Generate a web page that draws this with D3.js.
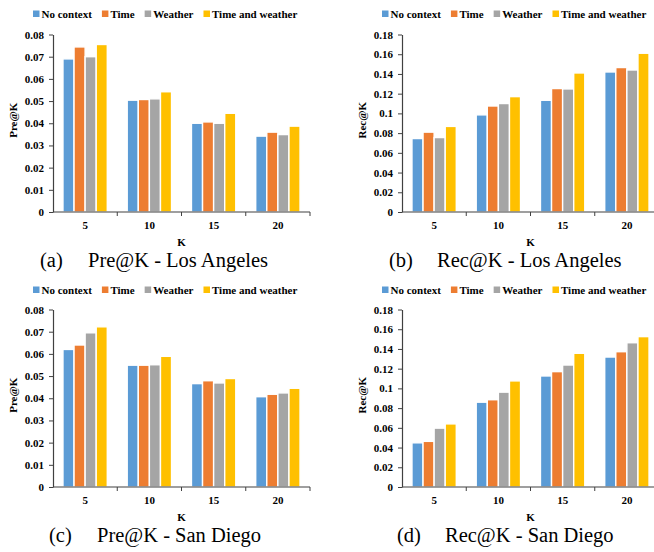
<!DOCTYPE html>
<html>
<head>
<meta charset="utf-8">
<script src="https://cdn.jsdelivr.net/npm/d3@7"></script>
<style>
  body { margin: 0; background: #fff; }
  svg { display: block; }
  svg text { font-family: "Liberation Serif", "Times New Roman", serif; }
</style>
</head>
<body>
<svg id="chart" width="654" height="552"></svg>
<script>
  // ---------- data ----------
  const kValues = ["5", "10", "15", "20"];
  const seriesNames = ["No context", "Time", "Weather", "Time and weather"];
  const seriesColors = ["#5B9BD5", "#ED7D31", "#A5A5A5", "#FFC000"];

  // one row per series, one value per K
  const preLosAngeles = [
    [0.0690, 0.0504, 0.0400, 0.0342],
    [0.0744, 0.0507, 0.0406, 0.0360],
    [0.0700, 0.0510, 0.0400, 0.0349],
    [0.0755, 0.0542, 0.0445, 0.0387]
  ];
  const recLosAngeles = [
    [0.0745, 0.0985, 0.1133, 0.1420],
    [0.0810, 0.1075, 0.1252, 0.1465],
    [0.0755, 0.1100, 0.1248, 0.1440],
    [0.0868, 0.1170, 0.1410, 0.1610]
  ];
  const preSanDiego = [
    [0.0620, 0.0549, 0.0466, 0.0407],
    [0.0640, 0.0549, 0.0479, 0.0418],
    [0.0695, 0.0551, 0.0469, 0.0424],
    [0.0722, 0.0589, 0.0489, 0.0445]
  ];
  const recSanDiego = [
    [0.0448, 0.0860, 0.1126, 0.1318],
    [0.0463, 0.0885, 0.1170, 0.1372],
    [0.0597, 0.0962, 0.1237, 0.1463],
    [0.0640, 0.1076, 0.1356, 0.1525]
  ];

  const preTicks = [0, 0.01, 0.02, 0.03, 0.04, 0.05, 0.06, 0.07, 0.08];
  const recTicks = [0, 0.02, 0.04, 0.06, 0.08, 0.1, 0.12, 0.14, 0.16, 0.18];

  const panels = [
    { tag: "(a)", title: "Pre@K - Los Angeles", yLabel: "Pre@K", values: preLosAngeles, ticks: preTicks,
      ox: 0, oy: 0 },
    { tag: "(b)", title: "Rec@K - Los Angeles", yLabel: "Rec@K", values: recLosAngeles, ticks: recTicks,
      ox: 349, oy: 0 },
    { tag: "(c)", title: "Pre@K - San Diego", yLabel: "Pre@K", values: preSanDiego, ticks: preTicks,
      ox: 0, oy: 275, capShift: 9 },
    { tag: "(d)", title: "Rec@K - San Diego", yLabel: "Rec@K", values: recSanDiego, ticks: recTicks,
      ox: 349, oy: 275, capShift: 8 }
  ];

  // ---------- layout ----------
  const axisLeft = 53;
  const plotWidth = 257;
  const plotTop = 34.5;
  const plotBottom = 212;
  const serif = "Liberation Serif";
  const axisColor = "#404040";

  const svg = d3.select("#chart");

  function boldText(sel) {
    return sel
      .attr("font-family", serif)
      .attr("font-weight", "bold")
      .attr("font-size", 11)
      .attr("fill", "#000");
  }

  function drawPanel(p) {
    const g = svg.append("g").attr("transform", `translate(${p.ox},${p.oy})`);

    const x0 = d3.scaleBand()
      .domain(kValues)
      .range([axisLeft, axisLeft + plotWidth]);

    const x1 = d3.scaleBand()
      .domain(seriesNames)
      .range([x0.bandwidth() * 0.155, x0.bandwidth() * 0.845]);

    const yMax = p.ticks[p.ticks.length - 1];
    const y = d3.scaleLinear()
      .domain([0, yMax])
      .range([plotBottom, plotTop]);

    // bars
    const groups = g.selectAll("g.kgroup")
      .data(kValues)
      .join("g")
      .attr("class", "kgroup")
      .attr("transform", k => `translate(${x0(k)},0)`);

    groups.selectAll("rect")
      .data((k, ki) => seriesNames.map((s, si) => ({ s, si, v: p.values[si][ki] })))
      .join("rect")
      .attr("x", d => x1(d.s))
      .attr("width", x1.bandwidth())
      .attr("y", d => y(d.v))
      .attr("height", d => plotBottom - y(d.v))
      .attr("fill", d => seriesColors[d.si])
      .attr("stroke", "#fff")
      .attr("stroke-width", 1.4);

    // y axis
    const yAxis = d3.axisLeft(y)
      .tickValues(p.ticks)
      .tickSize(4)
      .tickSizeOuter(0)
      .tickPadding(5)
      .tickFormat(d => String(+d.toFixed(2)));

    const ya = g.append("g")
      .attr("transform", `translate(${axisLeft},0)`)
      .call(yAxis)
      .attr("font-family", serif);
    ya.select(".domain").attr("stroke", axisColor).attr("stroke-width", 1.2);
    ya.selectAll(".tick line").attr("stroke", axisColor);
    ya.selectAll(".tick text").call(boldText);

    // x axis line + boundary ticks
    g.append("line")
      .attr("x1", axisLeft).attr("x2", axisLeft + plotWidth)
      .attr("y1", plotBottom).attr("y2", plotBottom)
      .attr("stroke", axisColor).attr("stroke-width", 1.2);

    const bounds = kValues.map(k => x0(k)).concat([axisLeft + plotWidth]).slice(1);
    g.selectAll("line.btick")
      .data(bounds)
      .join("line")
      .attr("class", "btick")
      .attr("x1", d => d).attr("x2", d => d)
      .attr("y1", plotBottom).attr("y2", plotBottom + 4)
      .attr("stroke", axisColor);

    g.selectAll("text.klabel")
      .data(kValues)
      .join("text")
      .attr("class", "klabel")
      .attr("x", k => x0(k) + x0.bandwidth() / 2)
      .attr("y", plotBottom + 17)
      .attr("text-anchor", "middle")
      .call(boldText)
      .text(k => k);

    // axis titles
    g.append("text")
      .attr("x", axisLeft + plotWidth / 2)
      .attr("y", plotBottom + 34)
      .attr("text-anchor", "middle")
      .call(boldText)
      .text("K");

    g.append("text")
      .attr("transform", `translate(17,${(plotTop + plotBottom) / 2 - 3}) rotate(-90)`)
      .attr("text-anchor", "middle")
      .call(boldText)
      .text(p.yLabel);

    // legend
    const legend = g.append("g")
      .attr("transform", `translate(${axisLeft - 20},${p.oy ? 15 : 14})`);
    let lx = 0;
    seriesNames.forEach((name, i) => {
      legend.append("rect")
        .attr("x", lx).attr("y", -3.5)
        .attr("width", 6.5).attr("height", 6.5)
        .attr("fill", seriesColors[i]);
      const t = legend.append("text")
        .attr("x", lx + 8.5)
        .attr("y", 4)
        .call(boldText)
        .text(name);
      lx += 8.5 + t.node().getComputedTextLength() + 10;
    });

    // caption
    const capShift = p.capShift || 0;
    g.append("text")
      .attr("x", 40 + capShift)
      .attr("y", 267)
      .attr("font-family", serif)
      .attr("font-size", 20.5)
      .text(p.tag);
    g.append("text")
      .attr("x", 88 + capShift)
      .attr("y", 267)
      .attr("font-family", serif)
      .attr("font-size", 20.5)
      .text(p.title);
  }

  panels.forEach(drawPanel);
</script>
</body>
</html>
